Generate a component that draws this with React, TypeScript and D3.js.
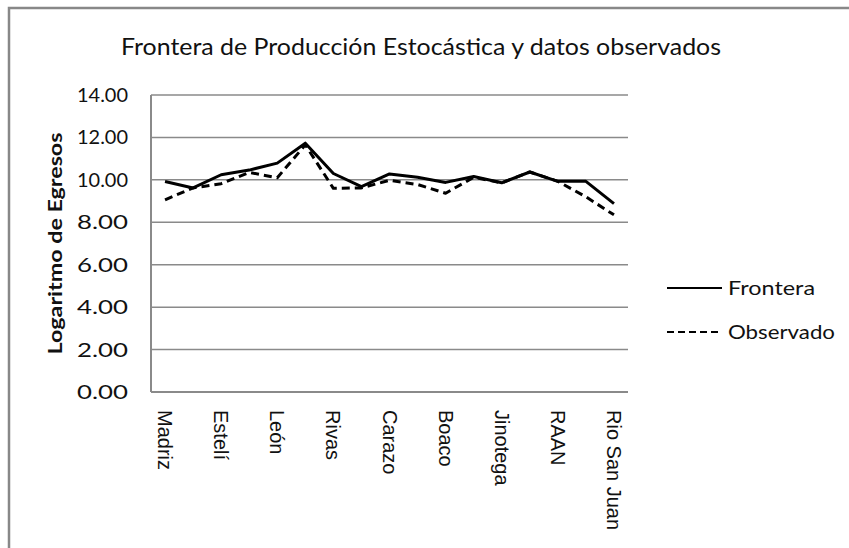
import React from "react";
import * as d3 from "d3";

const categories = [
  "Madriz", "Nueva Segovia", "Estelí", "Chinandega", "León", "Managua", "Rivas", "Masaya",
  "Carazo", "Granada", "Boaco", "Chontales", "Jinotega", "Matagalpa", "RAAN", "RAAS", "Rio San Juan",
];
const frontera = [9.92, 9.62, 10.24, 10.46, 10.79, 11.73, 10.3, 9.68, 10.28, 10.12, 9.88, 10.16, 9.86, 10.37, 9.93, 9.93, 8.88];
const observado = [9.06, 9.62, 9.82, 10.35, 10.1, 11.65, 9.6, 9.62, 9.98, 9.78, 9.37, 10.12, 9.86, 10.37, 9.93, 9.2, 8.35];
const yTicks = [0, 2, 4, 6, 8, 10, 12, 14];
const title = "Frontera de Producción Estocástica y datos observados";
const yTitle = "Logaritmo de Egresos";
const seriesNames = ["Frontera", "Observado"];

export default function App() {
  const W = 849, H = 548;
  const left = 151, right = 628, top = 95, bottom = 392;
  const x = d3.scaleBand<string>().domain(categories).range([left, right]).padding(0);
  const y = d3.scaleLinear().domain([0, 14]).range([bottom, top]);
  const cx = (i: number) => (x(categories[i]) as number) + x.bandwidth() / 2;
  const line = d3.line<number>().x((_, i) => cx(i)).y((d) => y(d));
  const grid = "#8a8a8a";
  const font = "Lato, 'Open Sans', sans-serif";

  return (
    <svg width={W} height={H} style={{ position: "absolute", left: 0, top: 0, background: "#fff" }}>
      <rect x={9} y={8} width={900} height={600} fill="#fff" stroke="#888" strokeWidth={2.5} />
      <text x={421} y={55} textAnchor="middle" fontFamily={font} fontSize={23} textLength={600}
        lengthAdjust="spacingAndGlyphs" fill="#111">{title}</text>
      {yTicks.map((t) => (
        <g key={t}>
          {t > 0 && <line x1={left} x2={right} y1={y(t)} y2={y(t)} stroke={grid} strokeWidth={1.5} />}
          <text x={128} y={y(t) + 7} textAnchor="end" fontFamily={font} fontSize={20} fill="#111"
            textLength={51} lengthAdjust="spacingAndGlyphs">{t.toFixed(2)}</text>
        </g>
      ))}
      <line x1={left} x2={left} y1={top} y2={bottom} stroke={grid} strokeWidth={2} />
      <line x1={left} x2={right} y1={bottom} y2={bottom} stroke={grid} strokeWidth={2} />
      <text transform={`translate(62,${(top + bottom) / 2 + 0}) rotate(-90)`} textAnchor="middle"
        fontFamily={font} fontSize={18} fontWeight="bold" fill="#111" textLength={222}
        lengthAdjust="spacingAndGlyphs">{yTitle}</text>
      {categories.map((c, i) =>
        i % 2 === 0 ? (
          <text key={c} transform={`translate(${cx(i) - 7},${bottom + 18}) rotate(90)`}
            fontFamily="'Liberation Sans', Arial, sans-serif" fontSize={20} fill="#111">{c}</text>
        ) : null
      )}
      <path d={line(frontera) || ""} fill="none" stroke="#000" strokeWidth={3} strokeLinejoin="round" />
      <path d={line(observado) || ""} fill="none" stroke="#000" strokeWidth={3} strokeDasharray="8 5" strokeLinejoin="round" />
      <line x1={667} x2={722} y1={288} y2={288} stroke="#000" strokeWidth={2} />
      <text x={728} y={295} fontFamily={font} fontSize={20} fill="#111" textLength={87}
        lengthAdjust="spacingAndGlyphs">{seriesNames[0]}</text>
      <line x1={667} x2={722} y1={332} y2={332} stroke="#000" strokeWidth={2} strokeDasharray="7 4" />
      <text x={728} y={339} fontFamily={font} fontSize={20} fill="#111" textLength={107}
        lengthAdjust="spacingAndGlyphs">{seriesNames[1]}</text>
    </svg>
  );
}
